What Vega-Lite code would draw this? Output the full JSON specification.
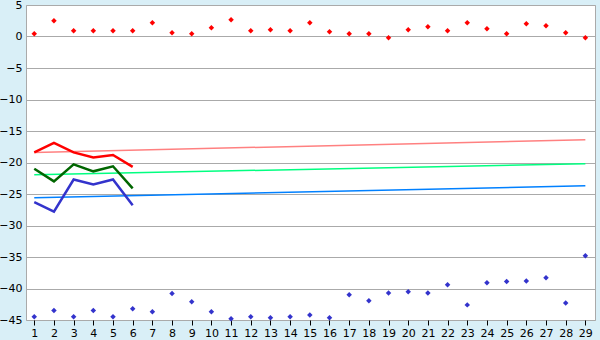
{
  "$schema": "https://vega.github.io/schema/vega-lite/v6.json",
  "autosize": {"type": "none"},
  "padding": {"left": 26, "top": 5, "right": 5, "bottom": 20},
  "width": 569,
  "height": 315,
  "background": "#d9eff7",
  "config": {
    "view": {"fill": "white", "stroke": "#aaaaaa", "strokeWidth": 1},
    "axis": {"labelFont": "DejaVu Sans", "labelFontSize": 11, "labelColor": "black"}
  },
  "datasets": {
    "pts": [
      {"x":1,"v":0.43,"s":"rp"},{"x":2,"v":2.49,"s":"rp"},{"x":3,"v":0.9,"s":"rp"},{"x":4,"v":0.9,"s":"rp"},{"x":5,"v":0.9,"s":"rp"},
      {"x":6,"v":0.9,"s":"rp"},{"x":7,"v":2.17,"s":"rp"},{"x":8,"v":0.59,"s":"rp"},{"x":9,"v":0.43,"s":"rp"},{"x":10,"v":1.38,"s":"rp"},
      {"x":11,"v":2.65,"s":"rp"},{"x":12,"v":0.9,"s":"rp"},{"x":13,"v":1.06,"s":"rp"},{"x":14,"v":0.9,"s":"rp"},{"x":15,"v":2.17,"s":"rp"},
      {"x":16,"v":0.75,"s":"rp"},{"x":17,"v":0.43,"s":"rp"},{"x":18,"v":0.43,"s":"rp"},{"x":19,"v":-0.21,"s":"rp"},{"x":20,"v":1.06,"s":"rp"},
      {"x":21,"v":1.54,"s":"rp"},{"x":22,"v":0.9,"s":"rp"},{"x":23,"v":2.17,"s":"rp"},{"x":24,"v":1.22,"s":"rp"},{"x":25,"v":0.43,"s":"rp"},
      {"x":26,"v":2.01,"s":"rp"},{"x":27,"v":1.7,"s":"rp"},{"x":28,"v":0.59,"s":"rp"},{"x":29,"v":-0.21,"s":"rp"},
      {"x":1,"v":-44.5,"s":"bp"},{"x":2,"v":-43.5,"s":"bp"},{"x":3,"v":-44.5,"s":"bp"},{"x":4,"v":-43.5,"s":"bp"},{"x":5,"v":-44.5,"s":"bp"},
      {"x":6,"v":-43.2,"s":"bp"},{"x":7,"v":-43.7,"s":"bp"},{"x":8,"v":-40.8,"s":"bp"},{"x":9,"v":-42.1,"s":"bp"},{"x":10,"v":-43.7,"s":"bp"},
      {"x":11,"v":-44.8,"s":"bp"},{"x":12,"v":-44.5,"s":"bp"},{"x":13,"v":-44.65,"s":"bp"},{"x":14,"v":-44.5,"s":"bp"},{"x":15,"v":-44.2,"s":"bp"},
      {"x":16,"v":-44.65,"s":"bp"},{"x":17,"v":-41.0,"s":"bp"},{"x":18,"v":-41.95,"s":"bp"},{"x":19,"v":-40.7,"s":"bp"},{"x":20,"v":-40.5,"s":"bp"},
      {"x":21,"v":-40.7,"s":"bp"},{"x":22,"v":-39.4,"s":"bp"},{"x":23,"v":-42.6,"s":"bp"},{"x":24,"v":-39.1,"s":"bp"},{"x":25,"v":-38.9,"s":"bp"},
      {"x":26,"v":-38.8,"s":"bp"},{"x":27,"v":-38.3,"s":"bp"},{"x":28,"v":-42.3,"s":"bp"},{"x":29,"v":-34.8,"s":"bp"}
    ],
    "thin": [
      {"x":1,"v":-18.4,"s":"rt"},{"x":29,"v":-16.4,"s":"rt"},
      {"x":1,"v":-21.95,"s":"gt"},{"x":29,"v":-20.2,"s":"gt"},
      {"x":1,"v":-25.6,"s":"bt"},{"x":29,"v":-23.7,"s":"bt"}
    ],
    "thick": [
      {"x":1,"v":-18.4,"s":"rk"},{"x":2,"v":-16.9,"s":"rk"},{"x":3,"v":-18.4,"s":"rk"},{"x":4,"v":-19.2,"s":"rk"},{"x":5,"v":-18.8,"s":"rk"},{"x":6,"v":-20.7,"s":"rk"},
      {"x":1,"v":-21.0,"s":"gk"},{"x":2,"v":-23.0,"s":"gk"},{"x":3,"v":-20.3,"s":"gk"},{"x":4,"v":-21.4,"s":"gk"},{"x":5,"v":-20.6,"s":"gk"},{"x":6,"v":-24.1,"s":"gk"},
      {"x":1,"v":-26.3,"s":"bk"},{"x":2,"v":-27.8,"s":"bk"},{"x":3,"v":-22.7,"s":"bk"},{"x":4,"v":-23.5,"s":"bk"},{"x":5,"v":-22.7,"s":"bk"},{"x":6,"v":-26.8,"s":"bk"}
    ]
  },
  "encoding": {
    "x": {"field": "x", "type": "quantitative",
      "scale": {"domain": [0.58, 29.49], "nice": false, "zero": false},
      "axis": {"title": null, "values": [1,2,3,4,5,6,7,8,9,10,11,12,13,14,15,16,17,18,19,20,21,22,23,24,25,26,27,28,29],
        "grid": false, "domain": false, "tickColor": "black", "tickSize": 5, "labelPadding": 2, "labelFlush": false}},
    "y": {"field": "v", "type": "quantitative",
      "scale": {"domain": [-45, 5], "nice": false, "zero": false},
      "axis": {"title": null, "values": [5,0,-5,-10,-15,-20,-25,-30,-35,-40,-45], "grid": true, "gridColor": "#aaaaaa", "gridOpacity": 1,
        "ticks": false, "domain": false, "labelPadding": 4, "labelFlush": false}},
    "color": {"field": "s", "type": "nominal", "legend": null,
      "scale": {"domain": ["rp","bp","rt","gt","bt","rk","gk","bk"],
        "range": ["#ff0000","#3333cc","#ff8080","#00ff80","#0080ff","#ff0000","#006600","#3333cc"]}}
  },
  "layer": [
    {"data": {"name": "thin"}, "mark": {"type": "line", "strokeWidth": 1.5}, "encoding": {"detail": {"field": "s"}}},
    {"data": {"name": "thick"}, "mark": {"type": "line", "strokeWidth": 2.5}, "encoding": {"detail": {"field": "s"}}},
    {"data": {"name": "pts"}, "mark": {"type": "point", "shape": "diamond", "filled": true, "opacity": 1, "size": 30}}
  ]
}
